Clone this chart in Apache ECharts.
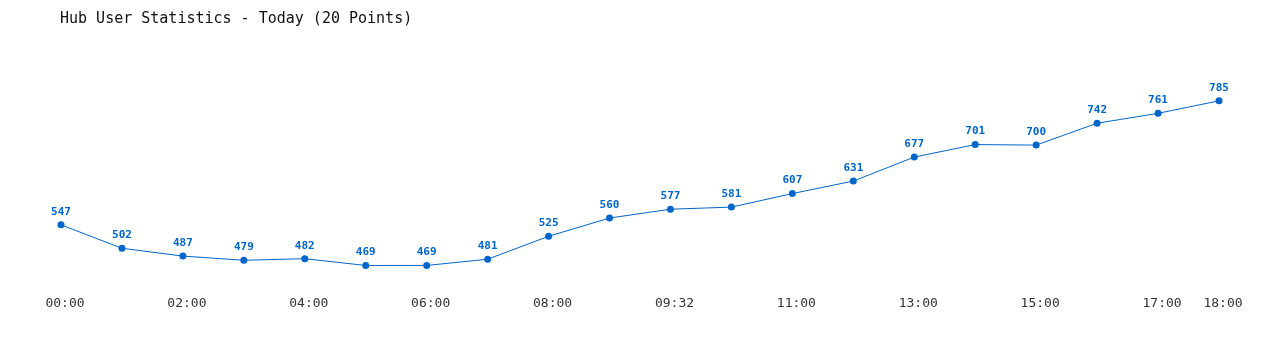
<!DOCTYPE html>
<html>
<head>
<meta charset="utf-8">
<script src="https://cdn.jsdelivr.net/npm/echarts@6/dist/echarts.min.js"></script>
<style>
html,body{margin:0;padding:0;background:#fff;}
#chart{width:1280px;height:350px;}
</style>
</head>
<body>
<div id="chart"></div>
<script>
const titleText = 'Hub User Statistics - Today (20 Points)';
const categories = ['00:00','01:00','02:00','03:00','04:00','05:00','06:00','07:00','08:00','08:46',
  '09:32','10:16','11:00','12:00','13:00','14:00','15:00','16:00','17:00','18:00'];
const users = [547,502,487,479,482,469,469,481,525,560,577,581,607,631,677,701,700,742,761,785];

const chart = echarts.init(document.getElementById('chart'));
const mono = '"DejaVu Sans Mono", "Liberation Mono", monospace';
chart.setOption({
  animation: false,
  backgroundColor: '#ffffff',
  title: {
    text: titleText,
    left: 55,
    top: 7,
    textStyle: { fontFamily: mono, fontSize: 15, fontWeight: 'normal', color: '#111' }
  },
  grid: { left: 61, right: 61, top: 93, bottom: 59 },
  xAxis: {
    type: 'category',
    data: categories,
    boundaryGap: false,
    axisLine: { show: false },
    axisTick: { show: false },
    splitLine: { show: false },
    axisLabel: {
      interval: function (i) { return i % 2 === 0 || i === categories.length - 1; },
      margin: 6,
      padding: [0, 0, 0, 8],
      fontFamily: mono,
      fontSize: 13,
      color: '#333'
    }
  },
  yAxis: {
    type: 'value',
    min: 420,
    max: 800,
    show: false,
    splitLine: { show: false }
  },
  series: [{
    type: 'line',
    data: users,
    symbol: 'circle',
    symbolSize: 7,
    lineStyle: { color: '#0066cc', width: 1 },
    itemStyle: { color: '#0066cc' },
    label: {
      show: true,
      position: 'top',
      distance: 4,
      fontFamily: mono,
      fontSize: 11,
      fontWeight: 'bold',
      color: '#0066cc'
    }
  }]
});
</script>
</body>
</html>
